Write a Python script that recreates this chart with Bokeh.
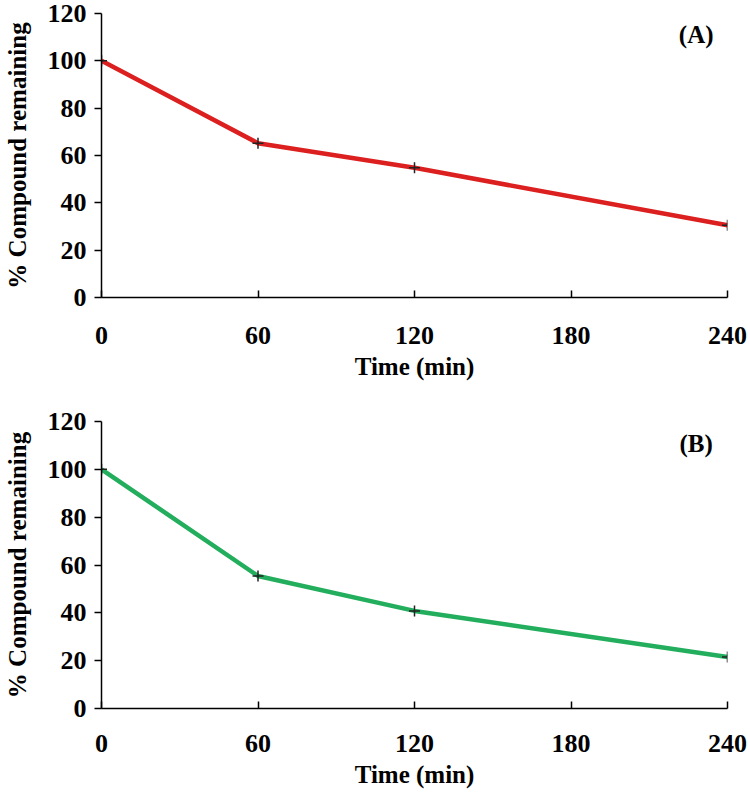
from bokeh.plotting import figure
from bokeh.layouts import column
from bokeh.models import Range1d, FixedTicker
from bokeh.core.properties import value
from bokeh.embed import file_html
from bokeh.resources import INLINE

time_min = [0, 60, 120, 240]
remaining_a = [100, 65.2, 54.8, 30.5]
remaining_b = [100, 55.4, 40.8, 21.5]
x_ticks = [0, 60, 120, 180, 240]
y_ticks = [0, 20, 40, 60, 80, 100, 120]
panel_labels = ["(A)", "(B)"]
x_title = "Time (min)"
y_title = "% Compound remaining"

FONT = "Liberation Serif"


def make_panel(ys, color, label, height, b_top, b_bottom, b_left, tick_standoff, title_standoff, y_title_standoff):
    p = figure(width=750, height=height, output_backend="svg", toolbar_location=None,
               x_range=Range1d(0, 240), y_range=Range1d(0, 120),
               min_border_top=b_top, min_border_bottom=b_bottom,
               min_border_left=b_left, min_border_right=23)
    p.outline_line_color = None
    p.grid.visible = False
    p.background_fill_color = "white"
    p.border_fill_color = "white"
    p.line(time_min, ys, line_color=color, line_width=4.5)
    p.scatter(time_min, ys, marker="cross", size=11, line_color="#222222", line_width=1.5)
    p.text(x=[228], y=[111], text=[label], text_font=value(FONT), text_font_style="bold",
           text_font_size="25px", text_align="center", text_baseline="middle", text_color="black")

    xa = p.xaxis[0]
    xa.ticker = FixedTicker(ticks=x_ticks)
    xa.axis_label = x_title
    xa.major_tick_in = 7
    xa.major_tick_out = 0
    xa.minor_tick_line_color = None
    xa.major_label_standoff = tick_standoff
    xa.axis_label_standoff = title_standoff

    ya = p.yaxis[0]
    ya.ticker = FixedTicker(ticks=y_ticks)
    ya.axis_label = y_title
    ya.major_tick_in = 0
    ya.major_tick_out = 7
    ya.minor_tick_line_color = None
    ya.major_label_standoff = 8
    ya.axis_label_standoff = y_title_standoff

    for ax in (xa, ya):
        ax.axis_line_color = "black"
        ax.axis_line_width = 1.5
        ax.major_tick_line_color = "black"
        ax.major_tick_line_width = 1.5
        ax.major_label_text_font = FONT
        ax.major_label_text_font_style = "bold"
        ax.major_label_text_font_size = "26px"
        ax.major_label_text_color = "black"
        ax.axis_label_text_font = FONT
        ax.axis_label_text_font_style = "bold"
        ax.axis_label_text_font_size = "25px"
        ax.axis_label_text_color = "black"
    return p


pa = make_panel(remaining_a, "#dc1f1f", panel_labels[0], 400, 13, 103, 93, 29, 6, 14)
pb = make_panel(remaining_b, "#22ae5c", panel_labels[1], 396, 21, 88, 98, 26, 6, 14)

layout = column(pa, pb, spacing=0)
open("out.html", "w").write(file_html(layout, INLINE))
